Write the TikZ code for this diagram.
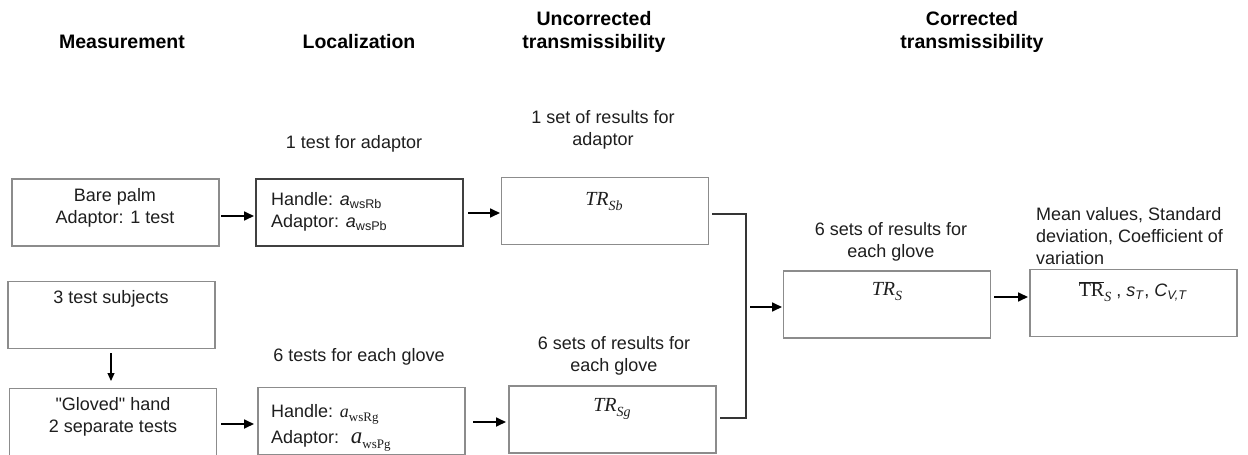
\documentclass[tikz,border=0pt]{standalone}
\usepackage{fix-cm}
\usepackage{fontspec}
\setmainfont{Liberation Sans}
\newfontfamily\mserif{Liberation Serif}
\usetikzlibrary{arrows.meta}
\definecolor{boxgray}{HTML}{8C8C8C}
\definecolor{ink}{HTML}{1E1E1E}
% lowered subscript at a fixed size
\newcommand{\lowsub}[2]{\raisebox{-0.25em}{\fontsize{#1}{#1}\selectfont #2}}
% serif symbols: italic variable with italic or upright subscript
\newcommand{\symit}[3][20]{{\mserif\fontsize{#1}{22}\selectfont\itshape #2\lowsub{14}{#3}}}
\newcommand{\symup}[3][18]{{\mserif\fontsize{#1}{22}\selectfont\itshape #2\lowsub{13}{\upshape #3}}}
\tikzset{
  box/.style={draw=boxgray, line width=1.3pt, minimum width=207pt, minimum height=67pt, inner sep=0pt},
  darkbox/.style={box, draw=ink!85, line width=1.6pt},
  txt/.style={text=ink, font=\fontsize{18}{22}\selectfont, align=center, inner sep=0pt},
  head/.style={text=black, font=\bfseries\fontsize{19.5}{23}\selectfont, align=center, inner sep=0pt},
  flow/.style={draw=black, line width=1.7pt, -{Triangle[length=10pt,width=9pt]}},
  thinflow/.style={draw=black, line width=1.2pt, -{Triangle[length=8pt,width=7pt]}},
  joiner/.style={draw=ink!90, line width=1.6pt}
}
\begin{document}
\begin{tikzpicture}[x=1pt,y=-1pt]
\useasboundingbox (0,0) rectangle (1248,455);
\clip (0,0) rectangle (1248,455);
\fill[white] (0,0) rectangle (1248,455);

% column headings
\node[head] (h1) at (122,42) {Measurement};
\node[head] (h2) at (359,42) {Localization};
\node[head] (h3) at (594,32) {Uncorrected\\transmissibility};
\node[head] (h4) at (972,32) {Corrected\\transmissibility};

% boxes
\node[box]     (m1) at (115.5,212.5) {};
\node[darkbox] (l1) at (359.5,212.5) {};
\node[box]     (u1) at (605,211) {};
\node[box]     (s3) at (111.5,315) {};
\node[box]     (m2) at (113,422) {};
\node[box]     (l2) at (361.5,421) {};
\node[box]     (u2) at (612.5,419.5) {};
\node[box]     (c)  at (887,304.5) {};
\node[box]     (f)  at (1133.5,303) {};

% box contents
\node[txt] (m1t) at (115,208) {Bare palm\\Adaptor: 1 test};
\node[txt, anchor=west, align=left] (l1t) at (271,212) {Handle: \textit{a}\textsubscript{wsRb}\\Adaptor: \textit{a}\textsubscript{wsPb}};
\node[txt] (u1t) at (604,202) {\symit{TR}{Sb}};
\node[txt] (s3t) at (111,299) {3 test subjects};
\node[txt] (m2t) at (113,417) {\textquotedbl Gloved\textquotedbl\ hand\\2 separate tests};
\node[txt, anchor=west, align=left] (l2t) at (271,428) {Handle: \symup{a}{wsRg}\\[4pt]Adaptor: \ \symup[23]{a}{wsPg}};
\node[txt] (u2t) at (612,409) {\symit{TR}{Sg}};
\node[txt] (ct)  at (887,292) {\symit{TR}{S}};
\node[txt] (ft)  at (1133,292) {{\mserif\fontsize{20}{22}\selectfont$\overline{\hbox{TR}}$\lowsub{14}{\itshape S}} , \textit{s}\textsubscript{\textit{T}}, \textit{C}\textsubscript{\textit{V,T}}};

% annotations
\node[txt] (a1) at (354,144) {1 test for adaptor};
\node[txt] (a2) at (603,130) {1 set of results for\\adaptor};
\node[txt] (a3) at (359,357) {6 tests for each glove};
\node[txt] (a4) at (614,356) {6 sets of results for\\each glove};
\node[txt] (a5) at (891,242) {6 sets of results for\\each glove};
\node[txt, anchor=west, align=left] (a6) at (1036,236) {Mean values, Standard\\deviation, Coefficient of\\variation};

% connector end points
\coordinate (p1a) at (221,216);  \coordinate (p1b) at (254,216);
\coordinate (p2a) at (468,213);  \coordinate (p2b) at (500,213);
\coordinate (p3a) at (111,353);  \coordinate (p3b) at (111,381);
\coordinate (p4a) at (221,424);  \coordinate (p4b) at (254,424);
\coordinate (p5a) at (473,422);  \coordinate (p5b) at (506,422);
\coordinate (jtop) at (746,214);
\coordinate (jbot) at (746,418);
\coordinate (jmid) at (750,307);
\coordinate (jend) at (782,307);
\coordinate (p6a) at (994,297);  \coordinate (p6b) at (1028,297);

% connectors
\draw[flow] (p1a) -- (p1b);
\draw[flow] (p2a) -- (p2b);
\draw[thinflow] (p3a) -- (p3b);
\draw[flow] (p4a) -- (p4b);
\draw[flow] (p5a) -- (p5b);
\draw[joiner] (u1.east |- jtop) ++(3,0) -- (jtop) -- (jbot) -- ([xshift=3pt]u2.east |- jbot);
\draw[flow] (jmid) -- (jend);
\draw[flow] (p6a) -- (p6b);
\end{tikzpicture}
\end{document}
